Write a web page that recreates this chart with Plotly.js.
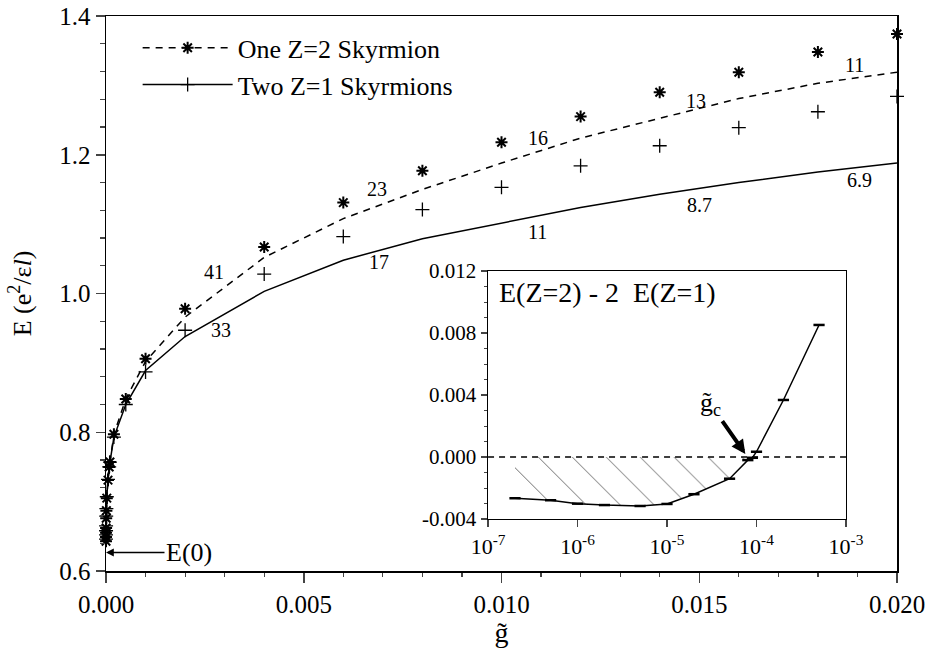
<!DOCTYPE html>
<html><head><meta charset="utf-8">
<script src="https://cdn.plot.ly/plotly-3.0.1.min.js"></script>
<style>html,body{margin:0;padding:0;background:#fff}</style>
</head><body><div id="chart" style="width:934px;height:652px"></div>
<script>
// reduced Zeeman coupling g~
const gMain = [2e-7, 5e-7, 1e-6, 2e-6, 5e-6, 1e-5, 2e-5, 5e-5, 8e-5, 1e-4, 2e-4, 5e-4,
               0.001, 0.002, 0.004, 0.006, 0.008, 0.010, 0.012, 0.014, 0.016, 0.018, 0.020];
// One Z=2 skyrmion (stars)
const eOneZ2 = [0.643, 0.649, 0.655, 0.662, 0.676, 0.687, 0.705, 0.731, 0.750, 0.757, 0.797, 0.848,
                0.906, 0.978, 1.067, 1.131, 1.177, 1.218, 1.255, 1.290, 1.319, 1.348, 1.374];
// Two Z=1 skyrmions (plus)
const eTwoZ1 = [0.646, 0.652, 0.658, 0.665, 0.679, 0.690, 0.707, 0.732, 0.750, 0.757, 0.793, 0.840,
                0.887, 0.947, 1.028, 1.082, 1.121, 1.153, 1.184, 1.213, 1.239, 1.262, 1.284];
// dashed curve (One Z=2) and solid curve (Two Z=1)
const curveOneZ2 = [0.643, 0.649, 0.655, 0.662, 0.676, 0.687, 0.705, 0.731, 0.750, 0.757, 0.797, 0.848,
                    0.902, 0.966, 1.052, 1.108, 1.150, 1.188, 1.224, 1.253, 1.281, 1.303, 1.319];
const curveTwoZ1 = [0.646, 0.652, 0.658, 0.665, 0.679, 0.690, 0.707, 0.732, 0.750, 0.757, 0.793, 0.840,
                    0.889, 0.938, 1.003, 1.048, 1.079, 1.101, 1.124, 1.143, 1.160, 1.175, 1.188];
// inset: E(Z=2) - 2 E(Z=1)
const insetG    = [2e-7, 5e-7, 1e-6, 2e-6, 5e-6, 1e-5, 2e-5, 5e-5, 8e-5, 9e-5, 1e-4, 2e-4, 5e-4];
const insetDiff = [-0.00266, -0.00279, -0.00301, -0.00310, -0.00316, -0.00303, -0.00240, -0.00140,
                   -0.00020, -0.00005, 0.00034, 0.00368, 0.00852];
const xTickVals = [0.000, 0.005, 0.010, 0.015, 0.020];
const yTickVals = [0.6, 0.8, 1.0, 1.2, 1.4];
const insetXTickVals = [1e-7, 1e-6, 1e-5, 1e-4, 1e-3];
const insetXTickText = ['10<sup>-7</sup>', '10<sup>-6</sup>', '10<sup>-5</sup>', '10<sup>-4</sup>', '10<sup>-3</sup>'];
const insetYTickVals = [-0.004, 0.000, 0.004, 0.008, 0.012];
const insetYTickText = ['-0.004', '0.000', '0.004', '0.008', '0.012'];
const E0 = 0.6267;   // E(0)
const gc = 7.5e-5;   // crossing g~c

const FONT = '"Liberation Serif", "Times New Roman", serif';
const negG = insetG.filter((g, i) => insetDiff[i] < 0);
const negD = insetDiff.filter(d => d < 0);

const traces = [
  {x: gMain, y: curveOneZ2, mode: 'lines', line: {color: '#000', width: 1.5, dash: '7px,6px'}, showlegend: false, hoverinfo: 'skip'},
  {x: gMain, y: curveTwoZ1, mode: 'lines', line: {color: '#000', width: 1.5}, showlegend: false, hoverinfo: 'skip'},
  {x: gMain, y: eOneZ2, mode: 'markers', marker: {symbol: 'asterisk-open', size: 10, color: '#000', line: {color: '#000', width: 2}}, showlegend: false, cliponaxis: false},
  {x: gMain, y: eTwoZ1, mode: 'markers', marker: {symbol: 'cross-thin-open', size: 10, color: '#000', line: {color: '#000', width: 1.3}}, showlegend: false, cliponaxis: false},
  {x: [null], y: [null], mode: 'lines+markers', name: 'One Z=2 Skyrmion',
   line: {color: '#000', width: 1.5, dash: '7px,6px'}, marker: {symbol: 'asterisk-open', size: 10, color: '#000', line: {color: '#000', width: 2}}},
  {x: [null], y: [null], mode: 'lines+markers', name: 'Two Z=1 Skyrmions',
   line: {color: '#000', width: 1.5}, marker: {symbol: 'cross-thin-open', size: 10, color: '#000', line: {color: '#000', width: 1.3}}},
  {x: negG, y: negD, xaxis: 'x2', yaxis: 'y2', mode: 'lines', line: {width: 0, color: 'rgba(0,0,0,0)'},
   fill: 'tozeroy', fillcolor: 'rgba(0,0,0,0)',
   fillpattern: {shape: '\\', size: 24, solidity: 0.035, fgcolor: '#555', bgcolor: 'rgba(0,0,0,0)'},
   showlegend: false, hoverinfo: 'skip'},
  {x: insetG, y: insetDiff, xaxis: 'x2', yaxis: 'y2', mode: 'lines+markers',
   line: {color: '#000', width: 1.5}, marker: {symbol: 'line-ew-open', size: 8, color: '#000', line: {color: '#000', width: 2.5}},
   showlegend: false}
];

const lbl = (t, x, y) => ({text: t, x: x, y: y, xref: 'x', yref: 'y', showarrow: false, font: {family: FONT, size: 20, color: '#000'}});

const layout = {
  width: 934, height: 652,
  margin: {l: 106, r: 37, t: 16, b: 81},
  paper_bgcolor: '#fff', plot_bgcolor: '#fff',
  font: {family: FONT, color: '#000', size: 24},
  showlegend: true,
  legend: {x: 0.04, y: 0.985, xanchor: 'left', yanchor: 'top', bgcolor: 'rgba(0,0,0,0)',
           font: {family: FONT, size: 26, color: '#000'}, itemwidth: 90, tracegroupgap: 0},
  xaxis: {range: [0, 0.020], tickvals: xTickVals, tickformat: '.3f', ticks: 'outside', ticklen: 10, tickwidth: 1.5,
          minor: {dtick: 0.001, ticks: 'outside', ticklen: 4, tickwidth: 1.2},
          showline: true, linewidth: 1.5, linecolor: '#000', mirror: true, showgrid: false, zeroline: false,
          tickfont: {family: FONT, size: 25},
          title: {text: 'g\u0303', font: {family: FONT, size: 28}, standoff: 4}},
  yaxis: {range: [0.6, 1.4], tickvals: yTickVals, tickformat: '.1f', ticks: 'outside', ticklen: 9, tickwidth: 1.5,
          minor: {dtick: 0.04, ticks: 'outside', ticklen: 5, tickwidth: 1.2},
          showline: true, linewidth: 1.5, linecolor: '#000', mirror: true, showgrid: false, zeroline: false,
          tickfont: {family: FONT, size: 25},
          title: {text: 'E (e<sup>2</sup>/\u03b5<i>l</i>)', font: {family: FONT, size: 26}, standoff: 20}},
  xaxis2: {type: 'log', domain: [0.483, 0.9355], anchor: 'y2', range: [-7, -3],
           tickvals: insetXTickVals, ticktext: insetXTickText, ticks: 'outside', ticklen: 7, tickwidth: 1.5,
           showline: true, linewidth: 1.5, linecolor: '#000', mirror: true, showgrid: false, zeroline: false,
           tickfont: {family: FONT, size: 22}},
  yaxis2: {domain: [0.0937, 0.5405], anchor: 'x2', range: [-0.004, 0.012],
           tickvals: insetYTickVals, ticktext: insetYTickText, ticks: 'outside', ticklen: 6, tickwidth: 1.5,
           minor: {dtick: 0.001, ticks: 'outside', ticklen: 3, tickwidth: 1},
           showline: true, linewidth: 1.5, linecolor: '#000', mirror: true, showgrid: false, zeroline: false,
           tickfont: {family: FONT, size: 21}},
  shapes: [
    {type: 'line', xref: 'x2 domain', x0: 0, x1: 1, yref: 'y2', y0: 0, y1: 0, line: {color: '#000', width: 1.5, dash: '6px,5px'}}
  ],
  annotations: [
    lbl('41', 0.00273, 1.031), lbl('33', 0.00291, 0.947),
    lbl('23', 0.00686, 1.150), lbl('17', 0.0069, 1.046),
    lbl('16', 0.01092, 1.224), lbl('11', 0.01092, 1.088),
    lbl('13', 0.01493, 1.278), lbl('8.7', 0.0150, 1.128),
    lbl('11', 0.01893, 1.330), lbl('6.9', 0.01906, 1.163),
    {text: 'E(0)', x: 0, y: E0, xref: 'x', yref: 'y', showarrow: true, ax: 83, ay: 0,
     arrowhead: 2, arrowsize: 1.2, arrowwidth: 1.3, arrowcolor: '#000', font: {family: FONT, size: 26, color: '#000'}},
    {text: 'E(Z=2) - 2&nbsp; E(Z=1)', xref: 'x2 domain', yref: 'y2 domain', x: 0.025, y: 0.985,
     xanchor: 'left', yanchor: 'top', showarrow: false, font: {family: FONT, size: 28, color: '#000'}},
    {text: 'g\u0303<sub>c</sub>', x: Math.log10(gc), y: 0.0002, xref: 'x2', yref: 'y2', showarrow: true,
     ax: -35, ay: -50, arrowhead: 2, arrowsize: 0.7, arrowwidth: 4, arrowcolor: '#000',
     font: {family: FONT, size: 26, color: '#000'}}
  ]
};

Plotly.newPlot('chart', traces, layout, {staticPlot: true, displayModeBar: false});
</script>
</body></html>
